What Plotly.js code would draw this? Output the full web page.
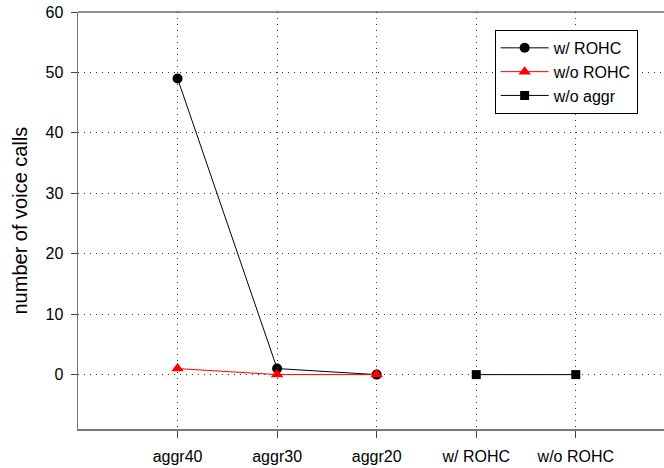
<!DOCTYPE html>
<html>
<head>
<meta charset="utf-8">
<script src="https://cdn.plot.ly/plotly-3.0.1.min.js"></script>
<style>html,body{margin:0;padding:0;background:#fff}#chart{width:664px;height:468px}</style>
</head>
<body>
<div id="chart"></div>
<script>
const categories = ["aggr40", "aggr30", "aggr20", "w/ ROHC", "w/o ROHC"];
const aggrCats = ["aggr40", "aggr30", "aggr20"];
const withRohc = [49, 1, 0];
const withoutRohc = [1, 0, 0];
const noAggrCats = ["w/ ROHC", "w/o ROHC"];
const noAggr = [0, 0];
const yTicks = [0, 10, 20, 30, 40, 50, 60];

const font = "Liberation Sans, Arial, sans-serif";

const traces = [
  {x: aggrCats, y: withRohc, name: "w/ ROHC", mode: "lines+markers",
   line: {color: "#000", width: 1}, marker: {symbol: "circle", size: 10, color: "#000"}},
  {x: aggrCats, y: withoutRohc, name: "w/o ROHC", mode: "lines+markers",
   line: {color: "#ff0000", width: 1}, marker: {symbol: "triangle-up", size: 11, color: "#ff0000"}},
  {x: noAggrCats, y: noAggr, name: "w/o aggr", mode: "lines+markers",
   line: {color: "#000", width: 1}, marker: {symbol: "square", size: 9, color: "#000"}}
];

const layout = {
  width: 664, height: 468,
  margin: {l: 78, r: 0, t: 12, b: 39},
  paper_bgcolor: "#fff", plot_bgcolor: "#fff",
  font: {family: font, size: 16, color: "#000"},
  showlegend: true,
  legend: {x: 0.711, y: 0.957, xanchor: "left", yanchor: "top",
    bordercolor: "#000", borderwidth: 1, bgcolor: "#fff", itemwidth: 48,
    font: {family: font, size: 16, color: "#000"}, tracegroupgap: 0},
  xaxis: {type: "category", categoryorder: "array", categoryarray: categories,
    range: [-1, 4.886], showgrid: true, gridcolor: "#333", griddash: "1px,5px", gridwidth: 1,
    showline: true, linecolor: "#777", linewidth: 1.5, ticks: "outside", ticklen: 7, tickcolor: "#444",
    ticklabelstandoff: 5,
    tickfont: {family: font, size: 16, color: "#000"}, zeroline: false, fixedrange: true},
  yaxis: {range: [-9, 60], tickvals: yTicks, showgrid: true, gridcolor: "#333", griddash: "1px,5px", gridwidth: 1,
    showline: true, linecolor: "#777", linewidth: 1.5, ticks: "outside", ticklen: 6, tickcolor: "#444",
    ticklabelstandoff: 4,
    tickfont: {family: font, size: 16, color: "#000"}, zeroline: false, fixedrange: true},
  shapes: [{type: "line", xref: "paper", yref: "paper", x0: 0, x1: 1, y0: 1, y1: 1,
    line: {color: "#222", width: 1}}],
  annotations: [{text: "number of voice calls", xref: "paper", yref: "paper", x: 0, y: 0.5,
    xanchor: "center", yanchor: "middle", xshift: -59, textangle: -90, showarrow: false,
    font: {family: font, size: 20, color: "#000"}}]
};

Plotly.newPlot("chart", traces, layout, {displayModeBar: false, staticPlot: true});
</script>
</body>
</html>
